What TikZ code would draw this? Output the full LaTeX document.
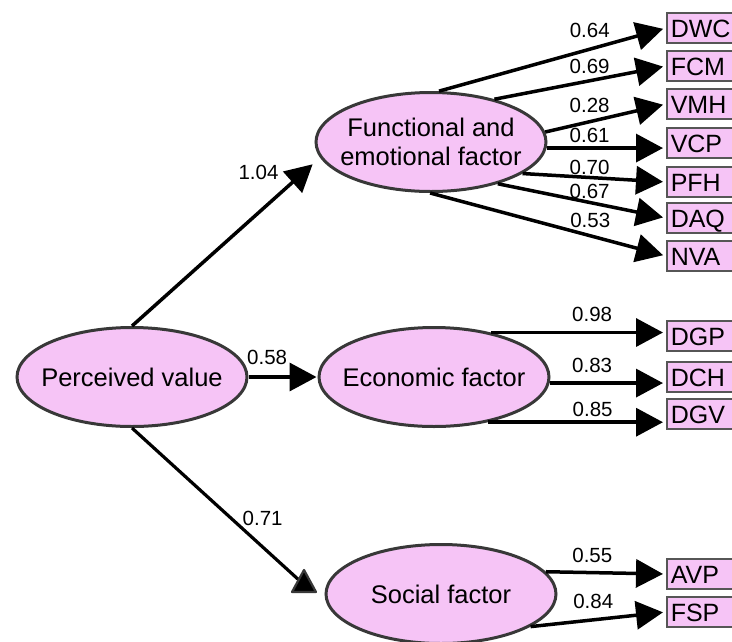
\documentclass[tikz,border=0pt]{standalone}
\usepackage{fontspec}
\setmainfont{Liberation Sans}
\usetikzlibrary{arrows.meta,shapes.geometric}
\definecolor{pinkfill}{HTML}{F6C4F6}
\definecolor{rim}{HTML}{383838}

\begin{document}
\begin{tikzpicture}[x=1pt,y=-1pt,
    >={Triangle[length=27pt,width=28pt]},
    latent/.style={ellipse,draw=rim,fill=pinkfill,line width=3,
        minimum width=230,minimum height=99,inner sep=0},
    ltext/.style={inner sep=0,align=center,font=\fontsize{25.5}{29}\selectfont},
    obs/.style={draw=rim!85,fill=pinkfill,line width=1.5,anchor=west,
        minimum height=30,text width=64,inner xsep=4,inner ysep=0,
        text height=18,text depth=0,align=left,
        font=\fontsize{25}{29}\selectfont},
    lbl/.style={inner sep=1,font=\fontsize{20.5}{22}\selectfont},
    link/.style={->,line width=3.5,shorten >=3}]
    \useasboundingbox (0,0) rectangle (732,641);
    % latent factors
    \node[latent,label={[ltext]center:Perceived value}] at(132,377)(pv){};
    \node[latent,label={[ltext]center:Functional and\\emotional factor}] at(431,142)(fe){};
    \node[latent,label={[ltext]center:Economic factor}] at(434,377)(ec){};
    \node[latent,label={[ltext]center:Social factor}] at(441,594)(so){};
    % indicators
    \node[obs] at(666,28)(dwc){DWC};
    \node[obs] at(666,66)(fcm){FCM};
    \node[obs] at(666,104)(vmh){VMH};
    \node[obs] at(666,143)(vcp){VCP};
    \node[obs] at(666,182)(pfh){PFH};
    \node[obs] at(666,218)(daq){DAQ};
    \node[obs] at(666,256)(nva){NVA};
    \node[obs] at(666,336)(dgp){DGP};
    \node[obs] at(666,377)(dch){DCH};
    \node[obs] at(666,414)(dgv){DGV};
    \node[obs] at(666,574)(avp){AVP};
    \node[obs] at(666,612)(fsp){FSP};
    \coordinate (tri) at (300,581);
    % second order paths
    \path[link]
        (pv.north) edge[shorten >=10] node[lbl,pos=.91,left=22](w1){1.04} (fe.188)
        (pv.east) edge[shorten >=1] node[lbl,pos=.27,above=10](w2){0.58} (ec.west);
    \draw[line width=3.2] (pv.south) -- node[lbl,pos=.59,right=9](w3){0.71} (tri);
    \filldraw[fill=black,draw=rim,line width=2.2,line join=round]
        ([shift={(4,-11)}]tri) -- ++(-12,22) -- ++(24,0) -- cycle;
    % loadings
    \path[link]
        (fe.81) edge node[lbl,pos=.664,above=8.5](l1){0.64} (dwc.west)
        (fe.34) edge node[lbl,pos=.555,above=4.5](l2){0.69} (fcm.west)
        (fe.5) edge node[lbl,pos=.368,above=6.5](l3){0.28} (vmh.west)
        (fe.-3) edge node[lbl,pos=.36,above=3](l4){0.61} (fe.-3 -| vcp.west)
        (fe.-19) edge node[lbl,pos=.467,above=0](l5){0.70} (pfh.west)
        (fe.-32) edge node[lbl,pos=.546,above=1.3](l6){0.67} (daq.west)
        (fe.-91) edge node[lbl,pos=.679,above=5.5](l7){0.53} (nva.west)
        (ec.38) edge node[lbl,pos=.578,above=8.5](l8){0.98} (ec.38 -| dgp.west)
        (ec.-3) edge node[lbl,pos=.365,above=7.5](l9){0.83} (ec.-3 -| dch.west)
        (ec.-40) edge node[lbl,pos=.588,above=2.5](l10){0.85} (ec.-40 -| dgv.west)
        (so.12) edge node[lbl,pos=.387,above=7.5](l11){0.55} (avp.west)
        (so.-20) edge node[lbl,pos=.463,above=8](l12){0.84} (fsp.west);
\end{tikzpicture}
\end{document}
